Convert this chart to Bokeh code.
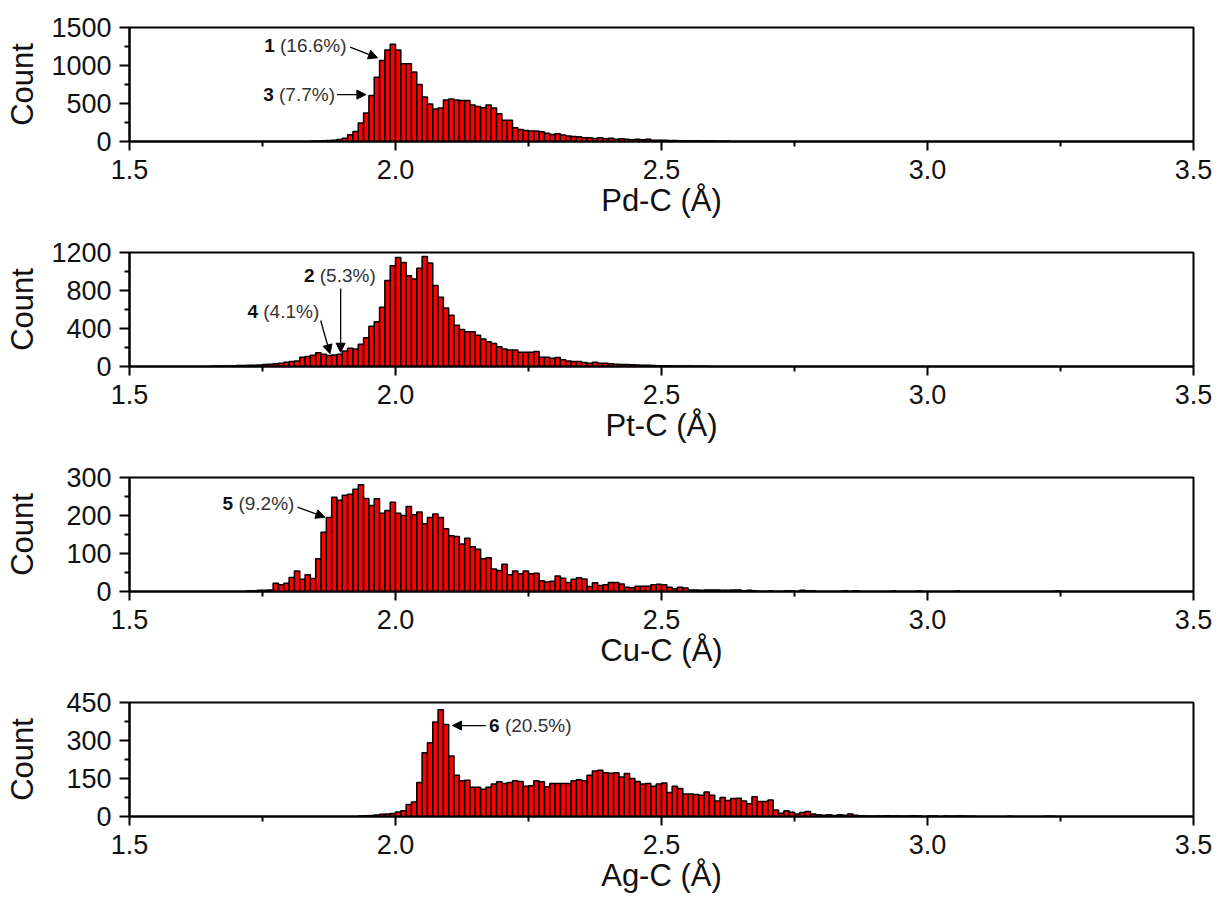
import numpy as np
from bokeh.plotting import figure
from bokeh.models import FixedTicker, Label, Arrow, NormalHead, Range1d, PrintfTickFormatter
from bokeh.layouts import column
from bokeh.embed import file_html
from bokeh.resources import INLINE

BIN_WIDTH = 0.01

# Histogram counts per 0.01 Å bin; each list starts at the given left bin edge.
pd_start = 1.84
pd_counts = [3, 5, 9, 13, 18, 26, 44, 88, 132, 243, 375, 604, 847, 1067, 1204, 1279,
             1204, 1023, 1023, 913, 750, 587, 494, 428, 441, 547, 560, 547, 538, 538,
             481, 459, 445, 481, 441, 366, 278, 278, 181, 159, 146, 137, 137, 128, 110,
             93, 101, 84, 71, 66, 62, 49, 49, 40, 49, 35, 44, 31, 35, 31, 22, 31, 22, 31,
             18, 18, 15, 12, 14, 10, 9, 8, 10, 6, 7, 5, 4, 3, 2]

pt_start = 1.65
pt_counts = [3, 4, 5, 6, 8, 10, 10, 14, 14, 17, 21, 24, 28, 35, 45, 52, 59, 97, 104, 118,
             146, 129, 115, 122, 129, 163, 191, 184, 233, 303, 424, 470, 623, 904, 1061,
             1148, 1096, 956, 922, 1033, 1158, 1089, 852, 730, 616, 539, 435, 390, 365,
             365, 330, 289, 261, 243, 209, 184, 174, 174, 150, 150, 150, 157, 97, 97, 87,
             94, 70, 59, 52, 52, 42, 35, 45, 35, 35, 28, 25, 22, 20, 18, 15, 13, 12, 10,
             9, 8, 7, 6, 5, 5, 4, 3, 3, 2]

cu_start = 1.72
cu_counts = [2, 2, 3, 3, 4, 22, 18, 22, 37, 54, 32, 44, 34, 86, 156, 195, 248, 240, 253,
             256, 269, 281, 245, 226, 244, 206, 213, 235, 206, 200, 224, 202, 209, 178,
             195, 204, 195, 165, 147, 145, 125, 140, 118, 111, 86, 89, 59, 55, 72, 44, 54,
             47, 54, 47, 48, 28, 25, 27, 41, 35, 24, 32, 36, 33, 13, 23, 16, 18, 24, 24,
             20, 11, 10, 14, 14, 14, 18, 19, 18, 11, 7, 11, 9, 4, 4, 3, 4, 4, 4, 3, 3, 4,
             4, 2, 3, 2, 0, 0, 2, 0, 0, 2, 2, 0, 3, 2, 2, 0, 0, 0, 0, 0, 2, 0, 2, 0, 0,
             0, 0, 0, 0, 1, 0, 0, 0, 0, 1, 0, 0, 0, 0, 0, 0, 1, 0, 0, 0, 0, 0, 0, 0, 0,
             0, 0, 0, 0, 0, 0, 0, 0, 0, 0, 1]

ag_start = 1.93
ag_counts = [2, 3, 4, 6, 9, 10, 12, 18, 23, 47, 57, 134, 252, 291, 373, 421, 363, 239, 163,
             141, 143, 115, 115, 108, 115, 128, 137, 130, 134, 141, 138, 119, 121, 141,
             137, 117, 130, 130, 130, 130, 141, 145, 141, 163, 180, 183, 173, 171, 173,
             156, 170, 150, 138, 128, 130, 119, 128, 132, 95, 119, 111, 89, 89, 87, 84,
             97, 84, 61, 75, 63, 71, 72, 61, 50, 78, 59, 59, 65, 26, 13, 23, 17, 10, 16,
             20, 10, 7, 5, 7, 4, 7, 5, 10, 5, 3, 2, 1, 2, 2, 3, 2, 2, 1, 2, 3, 2, 0, 2,
             2, 0, 2, 1, 2, 2, 1, 1, 0, 0, 0, 0, 0, 0, 1, 0, 0, 0, 0, 0, 0, 1, 1]

x_ticks = [1.5, 2.0, 2.5, 3.0, 3.5]
x_minor_ticks = [1.75, 2.25, 2.75, 3.25]

pd_yticks = [0, 500, 1000, 1500]
pt_yticks = [0, 400, 800, 1200]
cu_yticks = [0, 100, 200, 300]
ag_yticks = [0, 150, 300, 450]

x_titles = ["Pd-C (Å)", "Pt-C (Å)", "Cu-C (Å)", "Ag-C (Å)"]

# annotation: panel, bold number, share, target bin, bin anchor,
# tip gap (px), arrow tail from tip (px), label left/middle from tip (px)
annotations = [
    (0, "1", "(16.6%)", 1.97, "left", (-2, 2.6), (-27.4, 10.6), (-113.4, 12.3)),
    (0, "3", "(7.7%)", 1.95, "left", (-3, 1.0), (-29.0, 0.0), (-102.7, 0.0)),
    (1, "2", "(5.3%)", 1.89, "center", (1, 2.0), (0.0, 63.7), (-36.7, 76.7)),
    (1, "4", "(4.1%)", 1.87, "center", (1, 1.8), (-9.3, 33.3), (-82.6, 42.3)),
    (2, "5", "(9.2%)", 1.87, "left", (-1.5, 0.2), (-27.3, 10.0), (-102.3, 13.4)),
    (3, "6", "(20.5%)", 2.09, "right", (3.8, -1.0), (33.3, 0.0), (36.6, 0.0)),
]

FONT = "Liberation Sans"
INK = "#111111"
FRAME_W, FRAME_H = 1064, 114
X_MIN, X_MAX = 1.5, 3.5
ANN_SIZE = 19

series = [
    (pd_start, pd_counts, pd_yticks),
    (pt_start, pt_counts, pt_yticks),
    (cu_start, cu_counts, cu_yticks),
    (ag_start, ag_counts, ag_yticks),
]

figs = []
for idx, (start, counts, yticks) in enumerate(series):
    ymax = yticks[-1]
    p = figure(frame_width=FRAME_W, frame_height=FRAME_H,
               x_range=Range1d(X_MIN, X_MAX), y_range=Range1d(0, ymax),
               output_backend="svg", toolbar_location=None,
               min_border_left=129, min_border_right=26,
               min_border_top=27, min_border_bottom=84)
    p.background_fill_color = "white"
    p.border_fill_color = "white"
    p.outline_line_color = "black"
    p.outline_line_width = 2
    p.xgrid.visible = False
    p.ygrid.visible = False

    counts_arr = np.asarray(counts, dtype=float)
    left = np.round(start + np.arange(len(counts_arr)) * BIN_WIDTH, 4)
    keep = counts_arr > 0
    p.quad(left=left[keep], right=left[keep] + BIN_WIDTH, top=counts_arr[keep], bottom=0,
           fill_color="#ff0000", line_color="black", line_width=1.5)

    xa = p.xaxis[0]
    xa.ticker = FixedTicker(ticks=x_ticks, minor_ticks=x_minor_ticks)
    xa.formatter = PrintfTickFormatter(format="%.1f")
    xa.axis_label = x_titles[idx]
    ya = p.yaxis[0]
    ya.ticker = FixedTicker(ticks=yticks,
                            minor_ticks=[(a + b) / 2 for a, b in zip(yticks[:-1], yticks[1:])])
    ya.formatter = PrintfTickFormatter(format="%d")
    ya.axis_label = "Count"
    ya.axis_label_standoff = 8 if len(str(ymax)) == 4 else 23
    xa.axis_label_standoff = 1
    for ax in (xa, ya):
        ax.axis_line_width = 2
        ax.axis_line_color = "black"
        ax.major_tick_line_width = 2
        ax.minor_tick_line_width = 2
        ax.major_tick_in = 0
        ax.minor_tick_in = 0
        ax.minor_tick_out = 5
        ax.major_label_text_font = FONT
        ax.major_label_text_font_size = "27px"
        ax.major_label_text_color = INK
        ax.axis_label_text_font = FONT
        ax.axis_label_text_font_size = "31px"
        ax.axis_label_text_font_style = "normal"
        ax.axis_label_text_color = INK
    xa.major_tick_out = 9
    xa.major_label_standoff = 9
    ya.major_tick_out = 10
    ya.major_label_standoff = 8

    figs.append(p)

# px -> data conversion factors
dx_per_px = (X_MAX - X_MIN) / FRAME_W
num_w = 0.556 * ANN_SIZE + 0.278 * ANN_SIZE

for panel, num, share, target, anchor, gap, tail, lab in annotations:
    p = figs[panel]
    start, counts, yticks = series[panel]
    dy_per_px = yticks[-1] / FRAME_H
    i = int(round((target - start) / BIN_WIDTH))
    h = counts[i]
    bx = {"left": target, "center": target + BIN_WIDTH / 2, "right": target + BIN_WIDTH}[anchor]
    tip_x = bx + gap[0] * dx_per_px
    tip_y = h + gap[1] * dy_per_px
    p.add_layout(Arrow(x_start=tip_x + tail[0] * dx_per_px, y_start=tip_y + tail[1] * dy_per_px,
                       x_end=tip_x, y_end=tip_y, line_width=1.3, line_color="black",
                       end=NormalHead(size=9, fill_color="black", line_color="black", line_width=1)))
    p.add_layout(Label(x=tip_x, y=tip_y, x_offset=lab[0], y_offset=lab[1], text=num,
                       text_font=FONT, text_font_size=f"{ANN_SIZE}px", text_font_style="bold",
                       text_color=INK, text_align="left", text_baseline="middle"))
    p.add_layout(Label(x=tip_x, y=tip_y, x_offset=lab[0] + num_w, y_offset=lab[1], text=share,
                       text_font=FONT, text_font_size=f"{ANN_SIZE}px",
                       text_color="#333333", text_align="left", text_baseline="middle"))

layout = column(*figs, spacing=0)
open("out.html", "w").write(file_html(layout, INLINE))
